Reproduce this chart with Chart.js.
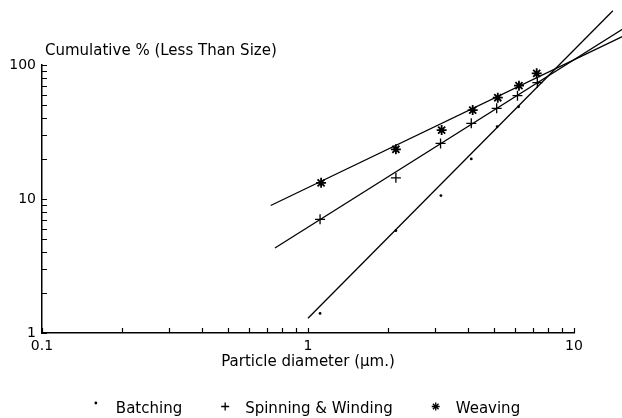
<!DOCTYPE html>
<html>
<head>
<meta charset="utf-8">
<script src="https://cdn.jsdelivr.net/npm/chart.js@4/dist/chart.umd.min.js"></script>
<style>
  html, body { margin: 0; padding: 0; background: #fff; }
  #wrap { width: 622px; height: 418px; }
</style>
</head>
<body>
<div id="wrap"><canvas id="chart"></canvas></div>
<script>
// measured points, particle diameter (um) vs cumulative % less than size
const batchingX = [1.11, 2.14, 3.16, 4.11, 5.14, 6.19, 7.3];
const batchingY = [1.4, 5.8, 10.6, 19.9, 34.6, 48.8, 73.4];
const spinningX = [1.11, 2.14, 3.15, 4.11, 5.12, 6.13, 7.28];
const spinningY = [7.05, 14.4, 26.0, 36.7, 47.5, 59.0, 73.8];
const weavingX = [1.12, 2.14, 3.18, 4.16, 5.17, 6.21, 7.24];
const weavingY = [13.2, 23.5, 32.7, 46.1, 57.0, 70.1, 86.7];

// fitted straight lines (end points)
const batchingFitX = [1.0, 14.0];
const batchingFitY = [1.29, 254];
const spinningFitX = [0.751, 15.2];
const spinningFitY = [4.31, 185];
const weavingFitX = [0.724, 15.2];
const weavingFitY = [8.94, 163];

const seriesNames = ['Batching', 'Spinning & Winding', 'Weaving'];
const xDecades = [0.1, 1, 10];
const yDecades = [1, 10, 100];
const yTitle = 'Cumulative % (Less Than Size)';
const xTitle = 'Particle diameter (\u00b5m.)';

const FONT = '"DejaVu Sans", sans-serif';

function pts(xs, ys) {
  return xs.map((x, i) => ({ x: x, y: ys[i] }));
}

// decade ticks plus the 2..9 minor marks between them
function logTicks(decades) {
  const out = [];
  decades.forEach((d, i) => {
    out.push(d);
    if (i < decades.length - 1) {
      for (let k = 2; k <= 9; k++) out.push(+(d * k).toPrecision(3));
    }
  });
  return out;
}

const pointSet = (label, data, style, radius, width) => ({
  label: label,
  data: data,
  showLine: false,
  pointStyle: style,
  pointRadius: radius,
  pointBorderWidth: width,
  borderColor: '#000',
  backgroundColor: '#000',
  clip: false,
});

const fitSet = (data) => ({
  label: '',
  fit: true,
  data: data,
  showLine: true,
  pointRadius: 0,
  borderWidth: 1.3,
  borderColor: '#000',
  clip: false,
});

// ticks drawn inward from the axes
const innerTicks = {
  id: 'innerTicks',
  afterDatasetsDraw(chart) {
    const { ctx, chartArea, scales } = chart;
    ctx.save();
    ctx.strokeStyle = '#000';
    ctx.lineWidth = 1.2;
    ctx.beginPath();
    scales.x.ticks.forEach(t => {
      const px = Math.round(scales.x.getPixelForValue(t.value)) + 0.5;
      ctx.moveTo(px, chartArea.bottom);
      ctx.lineTo(px, chartArea.bottom - 5);
    });
    scales.y.ticks.forEach(t => {
      const py = Math.round(scales.y.getPixelForValue(t.value)) + 0.5;
      ctx.moveTo(chartArea.left, py);
      ctx.lineTo(chartArea.left + 5, py);
    });
    ctx.stroke();
    ctx.restore();
  }
};

// y axis caption sitting above the axis
const yCaption = {
  id: 'yCaption',
  afterDraw(chart) {
    const { ctx, chartArea } = chart;
    ctx.save();
    ctx.font = '15px ' + FONT;
    ctx.fillStyle = '#000';
    ctx.textAlign = 'left';
    ctx.textBaseline = 'alphabetic';
    ctx.fillText(yTitle, chartArea.left + 3, chartArea.top - 10);
    ctx.restore();
  }
};

// legend row under the x axis title
const markerLegend = {
  id: 'markerLegend',
  afterDraw(chart) {
    const { ctx, chartArea } = chart;
    const sets = chart.data.datasets.filter(d => !d.fit);
    const gapText = 20, gapItem = 43;
    ctx.save();
    ctx.font = '15px ' + FONT;
    const widths = sets.map(d => ctx.measureText(d.label).width);
    let total = 0;
    widths.forEach((w, i) => { total += gapText + w + (i ? gapItem : 0); });
    let x = (chartArea.left + chartArea.right) / 2 - total / 2;
    const y = chartArea.bottom + 76;
    sets.forEach((d, i) => {
      if (i) x += gapItem;
      ctx.fillStyle = '#000';
      ctx.strokeStyle = '#000';
      if (d.pointStyle === 'circle') {
        ctx.beginPath();
        ctx.arc(x, y - 6, 1.4, 0, Math.PI * 2);
        ctx.fill();
      } else {
        Chart.helpers.drawPoint(ctx, {
          pointStyle: d.pointStyle,
          radius: 4,
          borderWidth: d.pointBorderWidth,
        }, x, y - 2.5);
      }
      ctx.fillStyle = '#000';
      ctx.textAlign = 'left';
      ctx.textBaseline = 'middle';
      ctx.fillText(d.label, x + gapText, y);
      x += gapText + widths[i];
    });
    ctx.restore();
  }
};

const xTickValues = logTicks(xDecades);
const yTickValues = logTicks(yDecades);

new Chart(document.getElementById('chart'), {
  type: 'scatter',
  data: {
    datasets: [
      pointSet(seriesNames[0], pts(batchingX, batchingY), 'circle', 1.4, 0),
      pointSet(seriesNames[1], pts(spinningX, spinningY), 'cross', 5, 1.3),
      pointSet(seriesNames[2], pts(weavingX, weavingY), 'star', 5, 1.8),
      fitSet(pts(batchingFitX, batchingFitY)),
      fitSet(pts(spinningFitX, spinningFitY)),
      fitSet(pts(weavingFitX, weavingFitY)),
    ]
  },
  options: {
    responsive: true,
    maintainAspectRatio: false,
    animation: false,
    devicePixelRatio: 1,
    layout: { padding: { top: 65, left: 0, right: 48, bottom: 47 } },
    plugins: {
      legend: { display: false },
      tooltip: { enabled: false },
    },
    scales: {
      x: {
        type: 'logarithmic',
        min: 0.1,
        max: 10,
        afterBuildTicks: s => { s.ticks = xTickValues.map(v => ({ value: v })); },
        afterFit: s => { s.height = 38; s.paddingLeft = 0; s.paddingRight = 0; },
        grid: { display: false, drawTicks: false },
        border: { display: true, color: '#000', width: 1.5 },
        ticks: {
          autoSkip: false,
          maxRotation: 0,
          padding: 5,
          color: '#000',
          font: { family: FONT, size: 14 },
          callback: v => xDecades.includes(v) ? String(v) : '',
        },
        title: {
          display: true,
          text: xTitle,
          color: '#000',
          font: { family: FONT, size: 15 },
          padding: { top: 2, bottom: 0 },
        },
      },
      y: {
        type: 'logarithmic',
        min: 1,
        max: 100,
        afterBuildTicks: s => { s.ticks = yTickValues.map(v => ({ value: v })); },
        afterFit: s => { s.width = 42; s.paddingTop = 0; s.paddingBottom = 0; },
        grid: { display: false, drawTicks: false },
        border: { display: true, color: '#000', width: 1.5 },
        ticks: {
          autoSkip: false,
          padding: 6,
          color: '#000',
          font: { family: FONT, size: 14 },
          callback: v => yDecades.includes(v) ? String(v) : '',
        },
      },
    },
  },
  plugins: [innerTicks, yCaption, markerLegend],
});
</script>
</body>
</html>
